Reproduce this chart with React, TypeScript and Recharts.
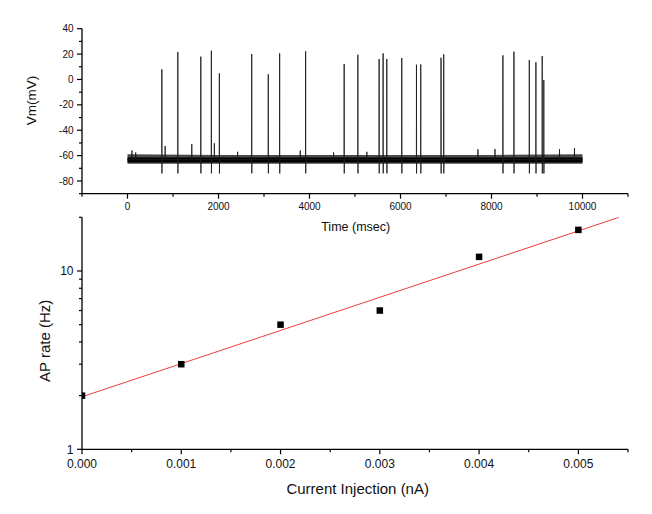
import { ComposedChart, Line, Area, Scatter, XAxis, YAxis } from "recharts";

const FONT = '"Liberation Sans", Arial, Helvetica, sans-serif';
const W = 652;
const H = 514;

// ---- top panel: membrane potential trace ----
const SPIKE_T = [755, 1106, 1611, 1843, 2019, 2730, 3094, 3344, 3915, 4762, 5063, 5530, 5618, 5699, 6028, 6351, 6445, 6891, 6950, 8251, 8493, 8831, 8976, 9115, 9150];
const SPIKE_PEAK = [8, 21.6, 18, 22.7, 4.9, 20, 4.1, 20.6, 22.2, 12.2, 19.5, 16.1, 20.6, 16.1, 16.9, 11.6, 11.9, 17.1, 19.8, 19, 21.9, 15.3, 13.5, 18.5, -0.4];
const SPIKE_TROUGH = -74;
const BUMP_T = [97, 180, 827, 1413, 1909, 2420, 3797, 4530, 5260, 7702, 8076, 9495, 9824];
const BUMP_PEAK = [-56, -57.5, -52.4, -51, -50.3, -57, -56, -57.5, -57, -55, -54.8, -55, -54];
const REST_MV = -63;
const NOISE_T = [0, 2000, 4000, 6000, 8000, 10000];
const NOISE_LOW = [-66.5, -66.5, -66.5, -66.5, -66.5, -66.5];
const NOISE_HIGH = [-59, -59.5, -59.5, -59.5, -59.5, -59];
const CORE_LOW = [-65.5, -65.5, -65.5, -65.5, -65.5, -65.5];
const CORE_HIGH = [-61.5, -61.5, -61.5, -61.5, -61.5, -61.5];

const TIME_TICKS = [-1000, 0, 1000, 2000, 3000, 4000, 5000, 6000, 7000, 8000, 9000, 10000, 11000];
const VM_TICKS = [-90, -80, -70, -60, -50, -40, -30, -20, -10, 0, 10, 20, 30, 40];

// ---- bottom panel: AP rate vs current ----
const CURRENT_NA = [0, 0.001, 0.002, 0.003, 0.004, 0.005];
const AP_RATE_HZ = [2.0, 3.0, 5.0, 6.0, 12.0, 17.0];
const FIT_NA = [0, 0.00541];
const FIT_HZ = [1.97, 20];

const CURRENT_TICKS = [0, 0.0005, 0.001, 0.0015, 0.002, 0.0025, 0.003, 0.0035, 0.004, 0.0045, 0.005, 0.0055];
const RATE_TICKS = [1, 2, 3, 4, 5, 6, 7, 8, 9, 10, 20];

// build trace from spike / bump events
type Ev = { t: number; pts: { t: number; v: number }[] };
const events: Ev[] = [
  ...SPIKE_T.map((t, i) => ({
    t,
    pts: [
      { t: t - 2, v: REST_MV },
      { t, v: SPIKE_PEAK[i] },
      { t: t + 2, v: SPIKE_TROUGH },
      { t: t + 4, v: REST_MV },
    ],
  })),
  ...BUMP_T.map((t, i) => ({
    t,
    pts: [
      { t: t - 3, v: REST_MV },
      { t, v: BUMP_PEAK[i] },
      { t: t + 3, v: REST_MV },
    ],
  })),
].sort((a, b) => a.t - b.t);

const traceData = [
  { t: 0, v: REST_MV },
  ...events.flatMap((e) => e.pts),
  { t: 10000, v: REST_MV },
];
const noiseData = NOISE_T.map((t, i) => ({
  t,
  outer: [NOISE_LOW[i], NOISE_HIGH[i]],
  core: [CORE_LOW[i], CORE_HIGH[i]],
}));

const pointData = CURRENT_NA.map((na, i) => ({ na, hz: AP_RATE_HZ[i] }));
const fitData = FIT_NA.map((na, i) => ({ na, hz: FIT_HZ[i] }));

// ticks drawn by hand so major/minor get different lengths
function leftTick(isMajor: (v: number) => boolean, fmt: (v: number) => string, fontSize: number) {
  return (props: any) => {
    const { x, y, payload } = props;
    const major = isMajor(payload.value);
    const len = major ? 5 : 3;
    return (
      <g>
        <line x1={x - len} y1={y} x2={x} y2={y} stroke="#000" strokeWidth={1.2} />
        {major && (
          <text x={x - 8.5} y={y + fontSize * 0.36} textAnchor="end" fontSize={fontSize} fontFamily={FONT} fill="#111">
            {fmt(payload.value)}
          </text>
        )}
      </g>
    );
  };
}

function bottomTick(isMajor: (v: number) => boolean, fmt: (v: number) => string, fontSize: number, gap: number) {
  return (props: any) => {
    const { x, y, payload } = props;
    const major = isMajor(payload.value);
    const len = major ? 5 : 3;
    return (
      <g>
        <line x1={x} y1={y} x2={x} y2={y + len} stroke="#000" strokeWidth={1.2} />
        {major && (
          <text x={x} y={y + gap} textAnchor="middle" fontSize={fontSize} fontFamily={FONT} fill="#111">
            {fmt(payload.value)}
          </text>
        )}
      </g>
    );
  };
}

function title(text: string, x: number, y: number, size: number, angle = 0) {
  return () => (
    <text
      x={x}
      y={y}
      textAnchor="middle"
      dominantBaseline="central"
      fontSize={size}
      fontFamily={FONT}
      fill="#111"
      transform={angle ? `rotate(${angle} ${x} ${y})` : undefined}
    >
      {text}
    </text>
  );
}

const axisLine = { stroke: "#000", strokeWidth: 1.3 };

export default function App() {
  return (
    <div style={{ position: "absolute", left: 0, top: 0, width: W, height: H, background: "#fff" }}>
      {/* top: Vm trace */}
      <div style={{ position: "absolute", left: 0, top: 0 }}>
        <ComposedChart width={W} height={H} margin={{ top: 28.7, right: 24, left: 0, bottom: 0 }}>
          <XAxis
            dataKey="t"
            type="number"
            domain={[-1000, 11000]}
            ticks={TIME_TICKS}
            interval={0}
            height={H - 193.7}
            tickSize={0}
            tickMargin={0}
            tickLine={false}
            axisLine={axisLine}
            tick={bottomTick((v) => v % 2000 === 0, (v) => String(v), 10, 16.6)}
            label={title("Time (msec)", 355.7, 227, 12.5)}
          />
          <YAxis
            type="number"
            domain={[-90, 40]}
            ticks={VM_TICKS}
            interval={0}
            width={82}
            tickSize={0}
            tickMargin={0}
            tickLine={false}
            axisLine={axisLine}
            tick={leftTick((v) => v % 20 === 0, (v) => String(v), 10)}
            label={title("Vm(mV)", 31, 100.5, 13.5, -90)}
          />
          <Area
            data={noiseData}
            dataKey="outer"
            type="linear"
            stroke="none"
            fill="#4a4a4a"
            fillOpacity={1}
            dot={false}
            activeDot={false}
            isAnimationActive={false}
          />
          <Area
            data={noiseData}
            dataKey="core"
            type="linear"
            stroke="none"
            fill="#000"
            fillOpacity={1}
            dot={false}
            activeDot={false}
            isAnimationActive={false}
          />
          <Line
            data={traceData}
            dataKey="v"
            type="linear"
            stroke="#1a1a1a"
            strokeWidth={0.85}
            dot={false}
            activeDot={false}
            isAnimationActive={false}
          />
        </ComposedChart>
      </div>

      {/* bottom: AP rate vs current injection */}
      <div style={{ position: "absolute", left: 0, top: 0 }}>
        <ComposedChart width={W} height={H} margin={{ top: 217.3, right: 24, left: 0, bottom: 0 }}>
          <XAxis
            dataKey="na"
            type="number"
            domain={[0, 0.0055]}
            ticks={CURRENT_TICKS}
            interval={0}
            allowDataOverflow
            height={H - 449.3}
            tickSize={0}
            tickMargin={0}
            tickLine={false}
            axisLine={axisLine}
            tick={bottomTick((v) => Math.round(v * 10000) % 10 === 0, (v) => v.toFixed(3), 12, 19)}
            label={title("Current Injection (nA)", 357.7, 488, 15)}
          />
          <YAxis
            type="number"
            scale="log"
            domain={[1, 20]}
            ticks={RATE_TICKS}
            interval={0}
            allowDataOverflow
            width={82}
            tickSize={0}
            tickMargin={0}
            tickLine={false}
            axisLine={axisLine}
            tick={leftTick((v) => v === 1 || v === 10, (v) => String(v), 12)}
            label={title("AP rate (Hz)", 45, 340.8, 15, -90)}
          />
          <Line
            data={fitData}
            dataKey="hz"
            type="linear"
            stroke="#ee3c3c"
            strokeWidth={1}
            dot={false}
            activeDot={false}
            isAnimationActive={false}
          />
          <Scatter
            data={pointData}
            dataKey="hz"
            isAnimationActive={false}
            shape={(p: any) => <rect x={p.cx - 3.25} y={p.cy - 3.25} width={6.5} height={6.5} fill="#000" />}
          />
        </ComposedChart>
      </div>
    </div>
  );
}
